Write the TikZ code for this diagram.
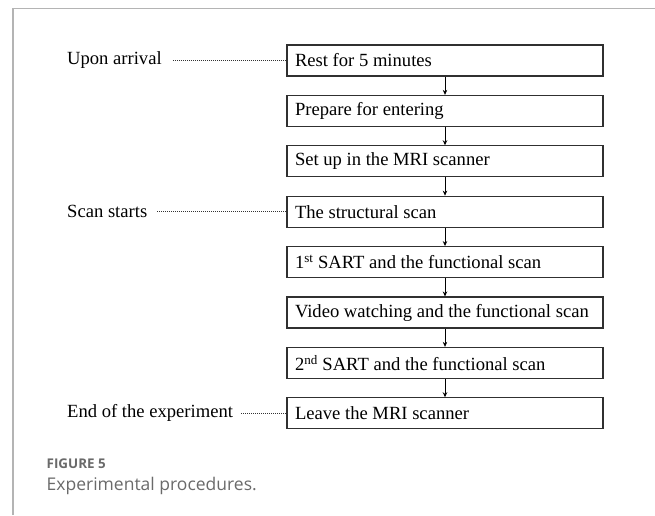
\documentclass[tikz,border=0pt]{standalone}
\usepackage{fontspec}
\setmainfont{Liberation Serif}
\newfontfamily\capfont{Open Sans}
\usetikzlibrary{arrows.meta}
\definecolor{framegrey}{HTML}{B4B4B4}
\definecolor{boxline}{HTML}{303030}
\definecolor{capgrey}{HTML}{6A6A6A}
\newcommand{\boxtext}[1]{\makebox[300pt][l]{#1}}
\tikzset{
  stepbox/.style={draw=boxline, line width=1.1pt, minimum height=31pt,
    inner xsep=8pt, inner ysep=0pt, font=\fontsize{18.6}{22}\selectfont},
  sidelabel/.style={anchor=west, inner sep=0pt, font=\fontsize{18.6}{22}\selectfont},
  flowarrow/.style={draw=black, line width=0.8pt, -{Stealth[length=5pt,width=4.5pt]}},
  dotline/.style={draw=black!80, line width=0.7pt, dash pattern=on 0.9pt off 1.1pt}
}
\begin{document}
\begin{tikzpicture}[x=1pt,y=-1pt]
\useasboundingbox (0,0) rectangle (655,515);
\draw[framegrey, line width=1.3pt] (13,515) -- (13,8.5) -- (655,8.5);

\node[stepbox] (b1) at (445,60.5) {\boxtext{Rest for 5 minutes}};
\node[stepbox] (b2) at (445,110.9) {\boxtext{Prepare for entering}};
\node[stepbox] (b3) at (445,161.3) {\boxtext{Set up in the MRI scanner}};
\node[stepbox] (b4) at (445,211.7) {\boxtext{The structural scan}};
\node[stepbox] (b5) at (445,262.1) {\boxtext{1\textsuperscript{st} SART and the functional scan}};
\node[stepbox] (b6) at (445,312.5) {\boxtext{Video watching and the functional scan}};
\node[stepbox] (b7) at (445,362.9) {\boxtext{2\textsuperscript{nd} SART and the functional scan}};
\node[stepbox] (b8) at (445,413.3) {\boxtext{Leave the MRI scanner}};

\foreach \a/\b in {b1/b2,b2/b3,b3/b4,b4/b5,b5/b6,b6/b7,b7/b8}
  \draw[flowarrow] (\a.south) -- (\b.north);

\node[sidelabel] (l1) at (67,60.5) {Upon arrival};
\node[sidelabel] (l2) at (67,211.7) {Scan starts};
\node[sidelabel] (l3) at (67,413.3) {End of the experiment};

\draw[dotline] ([xshift=11pt]l1.east) -- (b1.west);
\draw[dotline] ([xshift=10pt]l2.east) -- (b4.west);
\draw[dotline] ([xshift=8pt]l3.east) -- (b8.west);

\node[anchor=base west, inner sep=0pt, text=capgrey, font=\capfont\bfseries\fontsize{13.4}{16}\selectfont] (fig) at (46.5,468) {FIGURE 5};
\node[anchor=base west, inner sep=0pt, text=capgrey, font=\capfont\fontsize{17.5}{21}\selectfont] (cap) at (46.5,490) {Experimental procedures.};
\end{tikzpicture}
\end{document}
